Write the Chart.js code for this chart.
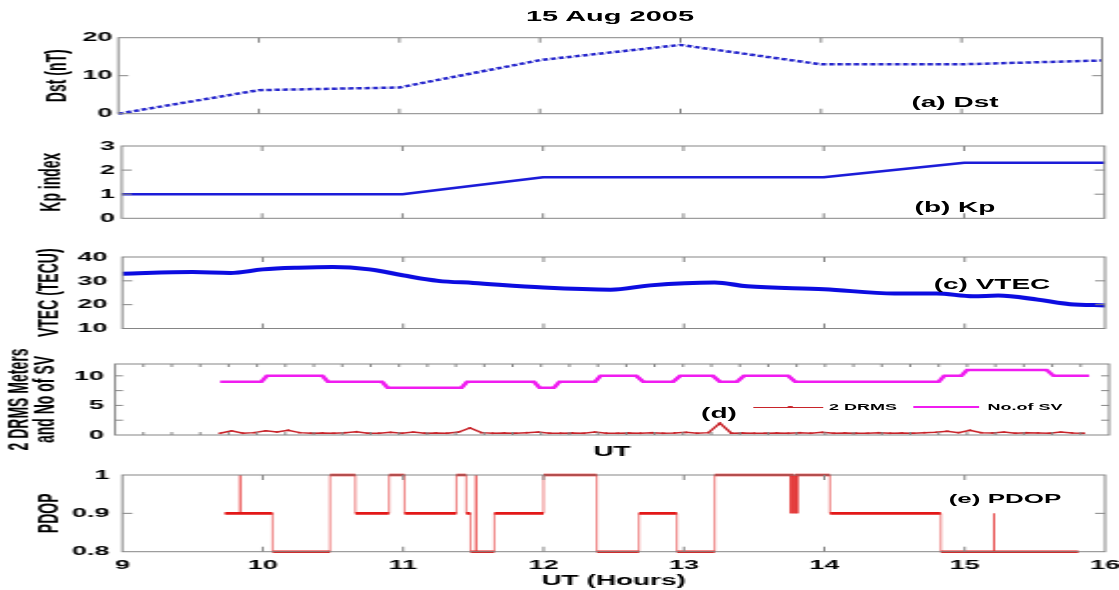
<!DOCTYPE html>
<html>
<head>
<meta charset="utf-8">
<script src="https://cdn.jsdelivr.net/npm/chart.js"></script>
<style>
html,body{margin:0;padding:0;background:#fff;}
body{width:1119px;height:590px;overflow:hidden;position:relative;}
#stage{position:absolute;left:0;top:0;width:560px;height:590px;transform-origin:0 0;}
.layer{position:absolute;left:0;top:0;width:560px;height:590px;}
.txt{position:absolute;font-family:"Liberation Sans",Arial,sans-serif;font-weight:bold;white-space:nowrap;color:#000;line-height:1;transform:translate(-50%,-50%);}
.lg{position:absolute;}
</style>
</head>
<body>
<div id="stage">
  <div class="layer"><canvas id="cA"></canvas></div>
  <div class="layer"><canvas id="cB"></canvas></div>
  <div class="layer"><canvas id="cC"></canvas></div>
  <div class="layer"><canvas id="cD"></canvas></div>
  <div class="layer"><canvas id="cE"></canvas></div>
</div>
<script>
// ---------------- data ----------------
const hourTicks = [9, 10, 11, 12, 13, 14, 15, 16];
const hourTickLabels = ['9', '10', '11', '12', '13', '14', '15', '16'];

const dstHours = [9, 10, 11, 12, 13, 14, 15, 16];
const dstValues = [0, 6.2, 6.9, 14.1, 18.1, 13, 13, 14];
const dstTicks = [0, 10, 20];

const kpHours = [9, 10, 11, 12, 13, 14, 15, 16];
const kpValues = [1, 1, 1, 1.7, 1.7, 1.7, 2.3, 2.3];
const kpTicks = [0, 1, 2, 3];

const vtecHours = [9.0, 9.5, 9.77, 10.0, 10.25, 10.5, 10.76, 11.0, 11.25, 11.5, 12.0, 12.48, 12.76, 13.22, 13.45, 14.0, 14.5, 14.8, 15.06, 15.24, 15.52, 15.75, 16.0];
const vtecValues = [33.0, 33.7, 33.3, 34.8, 35.5, 35.8, 34.8, 32.3, 30.0, 29.1, 27.2, 26.3, 28.1, 29.3, 27.7, 26.5, 24.7, 24.7, 23.5, 23.8, 22.1, 20.2, 19.7];
const vtecTicks = [10, 20, 30, 40];

const svHours = [9.74, 10.03, 10.07, 10.46, 10.5, 10.88, 10.92, 11.44, 11.48, 11.95, 11.99, 12.09, 12.13, 12.38, 12.42, 12.67, 12.72, 12.93, 12.98, 13.21, 13.26, 13.38, 13.43, 13.74, 13.79, 14.80, 14.84, 14.96, 15.0, 15.56, 15.61, 15.86];
const svValues = [9, 9, 10, 10, 9, 9, 8, 8, 9, 9, 8, 8, 9, 9, 10, 10, 9, 9, 10, 10, 9, 9, 10, 10, 9, 9, 10, 10, 11, 11, 10, 10];

const drmsStart = 9.74;
const drmsStep = 0.08;
const drmsValues = [
  0.3, 0.7, 0.3, 0.4, 0.7, 0.5, 0.8, 0.4, 0.3, 0.35,
  0.3, 0.4, 0.55, 0.3, 0.3, 0.45, 0.3, 0.5, 0.3, 0.35,
  0.3, 0.5, 1.2, 0.4, 0.3, 0.35, 0.3, 0.4, 0.5, 0.3,
  0.3, 0.35, 0.3, 0.5, 0.3, 0.3, 0.35, 0.3, 0.4, 0.3,
  0.35, 0.45, 0.3, 0.4, 2.0, 0.3, 0.35, 0.3, 0.3, 0.35,
  0.3, 0.4, 0.3, 0.45, 0.3, 0.35, 0.3, 0.3, 0.4, 0.3,
  0.35, 0.3, 0.4, 0.45, 0.65, 0.4, 0.8, 0.4, 0.35, 0.5,
  0.3, 0.4, 0.35, 0.3, 0.5, 0.35, 0.3
];
const dTicks = [0, 2.5, 5, 7.5, 10];
const dTickLabels = ['0', '', '5', '', '10'];
const dMinorStep = 0.2;

const pdopHours = [9.73, 9.84, 9.84, 10.07, 10.48, 10.66, 10.90, 11.01, 11.38, 11.45, 11.48, 11.52, 11.52, 11.65, 12.00, 12.38, 12.68, 12.95, 13.22,
  13.76, 13.76, 13.77, 13.77, 13.78, 13.78, 13.79, 13.79, 13.80, 13.80, 13.81, 13.81,
  14.04, 14.83, 15.21, 15.21, 15.81];
const pdopValues = [0.9, 1.0, 0.9, 0.8, 1.0, 0.9, 1.0, 0.9, 1.0, 0.9, 0.8, 1.0, 0.8, 0.9, 1.0, 0.8, 0.9, 0.8, 1.0,
  0.9, 1.0, 0.9, 1.0, 0.9, 1.0, 0.9, 1.0, 0.9, 1.0, 0.9, 1.0,
  0.9, 0.8, 0.9, 0.8, 0.8];
const pdopTicks = [0.8, 0.9, 1.0];
const pdopTickLabels = ['0.8', '0.9', '1'];

// ---------------- layout ----------------
const W = 560, H = 590;
const S = 1119 / W;              // horizontal stretch of the whole figure
document.getElementById('stage').style.transform = 'scaleX(' + S + ')';
const nx = v => v / S;

const FONT = '"Liberation Sans", Arial, sans-serif';
Chart.defaults.font.family = FONT;
Chart.defaults.color = '#000';
const FRAME = '#858585';

const zip = (xs, ys) => xs.map((x, i) => ({x: x, y: ys[i]}));
// horizontal runs of a step series (value held until the next change)
const runs = (xs, ys) => {
  const out = [];
  for (let i = 0; i < xs.length - 1; i++) {
    out.push({x: xs[i], y: ys[i]}, {x: xs[i + 1], y: ys[i]}, {x: xs[i + 1], y: null});
  }
  return out;
};

const framePlugin = {
  id: 'frame',
  afterDatasetsDraw(chart, args, o) {
    const {ctx, chartArea: a, scales} = chart;
    const xs = scales.x, ys = scales.y;
    ctx.save();
    ctx.strokeStyle = FRAME;
    ctx.lineWidth = 1;
    ctx.beginPath();
    xs.ticks.forEach(t => {
      const p = xs.getPixelForValue(t.value);
      if (p <= a.left + 1 || p >= a.right - 1) return;
      ctx.moveTo(p, a.top); ctx.lineTo(p, a.top + o.xLen);
      ctx.moveTo(p, a.bottom); ctx.lineTo(p, a.bottom - o.xLen);
    });
    ys.ticks.forEach(t => {
      const p = ys.getPixelForValue(t.value);
      if (p <= a.top + 1 || p >= a.bottom - 1) return;
      ctx.moveTo(a.left, p); ctx.lineTo(a.left + o.yLen, p);
      ctx.moveTo(a.right, p); ctx.lineTo(a.right - o.yLen, p);
    });
    ctx.stroke();
    ctx.strokeRect(a.left, a.top, a.right - a.left, a.bottom - a.top);
    ctx.restore();
  }
};

function makeChart(id, g) {
  const xH = g.xH || 0;
  return new Chart(document.getElementById(id), {
    type: 'line',
    data: {datasets: g.datasets},
    options: {
      responsive: true, maintainAspectRatio: false, animation: false, events: [],
      spanGaps: false,
      layout: {padding: {left: 0, right: W - nx(g.R), top: g.T, bottom: H - g.B - xH}},
      plugins: {legend: {display: false}, tooltip: {enabled: false}, title: {display: false},
                frame: {xLen: g.xLen, yLen: g.yLen}},
      scales: {
        x: {
          type: 'linear', min: 9, max: 16,
          grid: {display: false, drawTicks: false}, border: {display: false},
          afterBuildTicks: s => { s.ticks = g.xTicks.map(v => ({value: v})); },
          ticks: {display: !!g.xLabels, padding: 5.5, autoSkip: false, maxRotation: 0,
                  font: {size: 13.5, weight: 'bold'}, color: '#000',
                  callback: (v, i) => g.xLabels ? g.xLabels[i] : ''},
          title: g.xTitle ? {display: true, text: g.xTitle, color: '#000',
                  font: {size: 14, weight: 'bold'}, padding: {top: 0, bottom: 0}} : {display: false},
          afterFit: s => { s.height = xH; s.paddingLeft = 0; s.paddingRight = 0; }
        },
        y: {
          type: 'linear', min: g.yMin, max: g.yMax,
          grid: {display: false, drawTicks: false}, border: {display: false},
          afterBuildTicks: s => { s.ticks = g.yTicks.map(v => ({value: v})); },
          ticks: {padding: g.tickPad, autoSkip: false, font: {size: 13.5, weight: 'bold'}, color: '#000',
                  callback: (v, i) => g.yLabels[i]},
          title: {display: true, text: g.yTitle, color: '#000',
                  font: {size: 14, weight: 'bold', lineHeight: g.titleLH || 1.2},
                  padding: {top: g.titlePad, bottom: 0}},
          afterFit: s => { s.width = nx(g.L); s.paddingTop = 0; s.paddingBottom = 0; }
        }
      }
    },
    plugins: [framePlugin]
  });
}

const BLUE = '#1c1cd8';

makeChart('cA', {
  L: 118.3, R: 1102, T: 37.7, B: 113.7, xLen: 5, yLen: 5,
  xTicks: hourTicks, yMin: 0, yMax: 20, yTicks: dstTicks, yLabels: dstTicks.map(String),
  tickPad: 3, yTitle: 'Dst (nT)', titlePad: nx(57.5) - 8.4,
  datasets: [{data: zip(dstHours, dstValues), borderColor: '#2626cc', borderWidth: 2.5,
              borderDash: [2.7, 1.4], pointRadius: 0, tension: 0, clip: 3}]
});

makeChart('cB', {
  L: 121.7, R: 1104.5, T: 146, B: 218.3, xLen: 5, yLen: 5,
  xTicks: hourTicks, yMin: 0, yMax: 3, yTicks: kpTicks, yLabels: kpTicks.map(String),
  tickPad: 3.3, yTitle: 'Kp index', titlePad: nx(52) - 8.4,
  datasets: [{data: zip(kpHours, kpValues), borderColor: BLUE, borderWidth: 2.5,
              pointRadius: 0, tension: 0, clip: 3}]
});

makeChart('cC', {
  L: 122.3, R: 1105, T: 257, B: 328.5, xLen: 5, yLen: 5,
  xTicks: hourTicks, yMin: 10, yMax: 40, yTicks: vtecTicks, yLabels: vtecTicks.map(String),
  tickPad: 7.5, yTitle: 'VTEC (TECU)', titlePad: nx(50) - 8.4,
  datasets: [{data: zip(vtecHours, vtecValues), borderColor: '#0c0ce0', borderWidth: 4,
              pointRadius: 0, cubicInterpolationMode: 'monotone', clip: 3}]
});

const dMinorTicks = [];
for (let v = 9; v <= 16.0001; v += dMinorStep) dMinorTicks.push(Math.round(v * 10) / 10);
const drmsHours = drmsValues.map((_, i) => drmsStart + i * drmsStep);

makeChart('cD', {
  L: 115, R: 1109, T: 364, B: 435, xLen: 3, yLen: 4, xH: 25.4, xTitle: 'UT',
  xTicks: dMinorTicks, yMin: 0, yMax: 12, yTicks: dTicks, yLabels: dTickLabels,
  tickPad: 5.5, yTitle: ['2 DRMS Meters', 'and No of SV'], titlePad: 3.5, titleLH: 0.95,
  datasets: [
    {data: zip(svHours, svValues), borderColor: '#f01cf0', borderWidth: 2.5, pointRadius: 0, tension: 0, clip: 3},
    {data: zip(drmsHours, drmsValues), borderColor: '#c8242a', borderWidth: 1.5,
     pointRadius: 0.9, pointBackgroundColor: '#c8242a', pointBorderWidth: 0, tension: 0, clip: 3}
  ]
});

makeChart('cE', {
  L: 122.3, R: 1105, T: 475, B: 551.7, xLen: 5, yLen: 5, xH: 590 - 551.7,
  xTicks: hourTicks, xLabels: hourTickLabels, xTitle: 'UT (Hours)',
  yMin: 0.8, yMax: 1.0, yTicks: pdopTicks, yLabels: pdopTickLabels,
  tickPad: 6.5, yTitle: 'PDOP', titlePad: nx(50) - 8.4,
  datasets: [
    {data: zip(pdopHours, pdopValues), borderColor: 'rgba(225,30,30,0.8)', borderWidth: 0.7,
     stepped: true, pointRadius: 0, clip: 3},
    {data: runs(pdopHours, pdopValues), borderColor: '#e41616', borderWidth: 2.6,
     pointRadius: 0, tension: 0, spanGaps: false, clip: 3}
  ]
});

// ---------------- text annotations & legend ----------------
const stage = document.getElementById('stage');
function addText(t, x, y, size) {
  const d = document.createElement('div');
  d.className = 'txt';
  d.textContent = t;
  d.style.left = nx(x) + 'px';
  d.style.top = y + 'px';
  d.style.fontSize = size + 'px';
  stage.appendChild(d);
}
function addBox(x1, x2, y, h, color, radius) {
  const d = document.createElement('div');
  d.className = 'lg';
  d.style.left = nx(x1) + 'px';
  d.style.width = (nx(x2) - nx(x1)) + 'px';
  d.style.top = (y - h / 2) + 'px';
  d.style.height = h + 'px';
  d.style.background = color;
  if (radius) d.style.borderRadius = '50%';
  stage.appendChild(d);
}
addText('15 Aug 2005', 610, 16, 14.5);
addText('(a) Dst', 955, 102, 14);
addText('(b) Kp', 955, 207, 14);
addText('(c) VTEC', 992, 284, 14);
addText('(d)', 719, 413, 14);
addText('(e) PDOP', 1005, 498, 13);
// legend of panel d
addBox(754, 824, 407, 1, '#c8242a');
addBox(787, 793, 407, 2.5, '#c8242a', true);
addText('2 DRMS', 863, 407, 9);
addBox(913, 980, 407, 2.5, '#f01cf0');
addText('No.of SV', 1025, 407, 9);
</script>
</body>
</html>
